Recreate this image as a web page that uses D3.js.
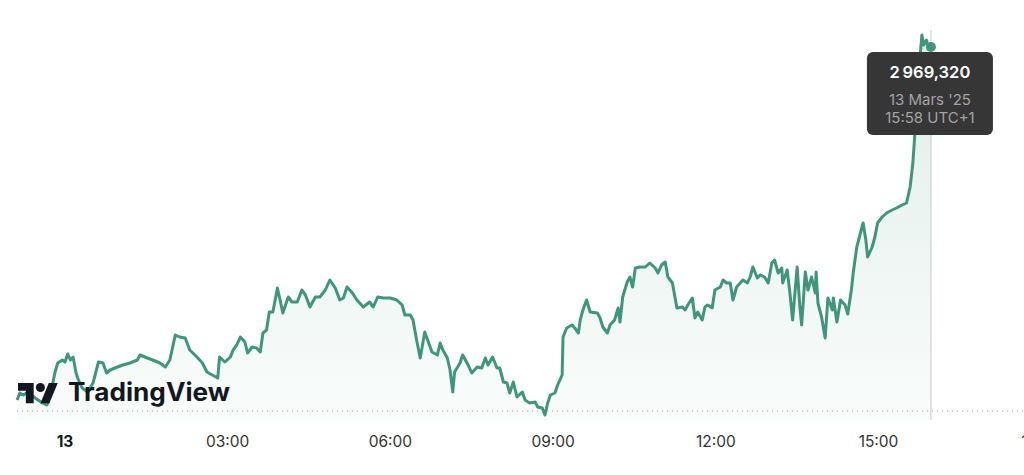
<!DOCTYPE html>
<meta charset="utf-8">
<html>
<head>
    <title>TradingView</title>
    <script src="https://d3js.org/d3.v7.min.js"></script>
    <style>
        body { margin: 0; background: #fff; }
        svg { display: block; font-family: Inter, "Open Sans", sans-serif; }
    </style>
</head>
<body>
<div id="chart"></div>
<script type="text/javascript">

    // 1-min-ish samples (times before 20:00 are 13 Mar, after are 12 Mar)
    var times = [
        "23:07","23:10","23:14","23:19","23:27","23:35","23:40","23:45","23:49","23:52","23:57",
        "00:00","00:03","00:06","00:09","00:12","00:14","00:19","00:25","00:31","00:37","00:42","00:46","00:50","00:58",
        "01:04","01:12","01:20","01:23","01:31","01:37","01:45","01:51","01:56",
        "02:02","02:07","02:13","02:18","02:26","02:32","02:37","02:43","02:49","02:51","02:57",
        "03:03","03:06","03:10","03:14","03:19","03:22","03:27","03:32","03:36","03:39","03:43","03:46","03:50","03:55","03:58",
        "04:01","04:07","04:11","04:17","04:22","04:26","04:31","04:37","04:42","04:48","04:53","04:59",
        "05:04","05:08","05:12","05:18","05:23","05:30","05:37","05:41","05:46","05:52",
        "06:00","06:07","06:13","06:16","06:22","06:25","06:29","06:33","06:38","06:42","06:46","06:52","06:55","06:58",
        "07:03","07:06","07:09","07:11","07:17","07:20","07:26","07:30","07:36","07:41","07:45","07:48","07:53","07:58",
        "08:01","08:05","08:09","08:12","08:16","08:20","08:26","08:29","08:34","08:40","08:43","08:48","08:51","08:54","08:57",
        "09:02","09:05","09:10","09:11","09:15","09:21","09:24","09:28","09:30","09:33","09:37","09:41","09:49","09:52","09:55",
        "10:00","10:03","10:08","10:12","10:14","10:17","10:22","10:25","10:28","10:31","10:36","10:42","10:47","10:53","10:56",
        "11:00","11:04","11:07","11:12","11:15","11:17","11:23","11:26","11:29","11:34","11:37","11:40","11:45","11:48","11:51","11:56","11:59",
        "12:05","12:08","12:12","12:16","12:19","12:23","12:27","12:30","12:35","12:38","12:41","12:46","12:49","12:54","12:58",
        "13:02","13:05","13:09","13:13","13:14","13:19","13:22","13:25","13:30","13:33","13:35","13:39","13:42","13:46","13:50","13:51","13:53","13:57",
        "14:01","14:04","14:09","14:10","14:14","14:18","14:23","14:26","14:30","14:32","14:36","14:40","14:43","14:46","14:48","14:53","14:56","14:59",
        "15:04","15:09","15:15","15:20","15:26","15:31","15:35","15:38","15:40","15:43","15:46","15:48","15:50","15:53","15:55","15:58"
    ];

    var prices = [
        2792.82,2796.32,2795.32,2796.82,2793.82,2791.32,2790.32,2797.82,2806.82,2811.32,2812.82,
        2811.82,2815.82,2812.82,2814.32,2806.82,2803.82,2798.82,2796.82,2801.32,2811.82,2811.32,2806.32,2807.82,2809.32,
        2810.32,2811.32,2812.82,2815.32,2813.82,2812.82,2811.32,2809.32,2812.82,
        2825.32,2824.32,2823.82,2817.82,2814.32,2811.32,2806.82,2805.32,2803.82,2814.32,2811.82,
        2814.32,2817.82,2820.32,2824.32,2821.82,2816.32,2819.32,2818.82,2816.82,2826.32,2827.82,2836.82,2836.82,2848.82,2842.82,
        2836.32,2844.32,2841.82,2841.82,2847.82,2845.32,2839.32,2844.32,2844.32,2847.82,2852.82,2848.82,
        2842.82,2843.82,2849.32,2846.32,2842.82,2839.32,2841.82,2839.32,2844.32,2843.82,
        2843.82,2842.82,2840.32,2835.32,2835.32,2832.82,2822.82,2813.82,2826.82,2821.82,2816.82,2815.32,2821.32,2817.82,
        2813.82,2807.82,2796.82,2806.82,2811.32,2815.32,2810.32,2806.32,2809.32,2808.82,2813.82,2810.32,2814.32,2808.82,
        2808.82,2801.82,2801.32,2796.32,2801.82,2794.32,2796.82,2792.82,2791.32,2791.82,2789.32,2788.82,2785.32,2791.32,2795.32,
        2796.32,2800.32,2805.32,2824.32,2828.82,2830.32,2828.82,2826.32,2832.82,2837.82,2842.82,2836.82,2836.32,2833.82,2829.32,
        2826.32,2830.32,2832.82,2838.82,2831.82,2844.32,2851.82,2854.32,2849.32,2858.82,2859.32,2859.32,2861.32,2858.82,2856.32,
        2860.32,2861.82,2854.32,2851.32,2843.82,2838.82,2839.32,2837.82,2840.32,2843.82,2833.82,2836.82,2832.82,2839.32,2840.32,2838.82,2847.82,
        2849.32,2852.82,2851.32,2851.32,2842.82,2849.32,2851.32,2852.82,2851.32,2854.32,2859.32,2853.82,2855.32,2854.32,2851.32,
        2861.32,2862.82,2856.32,2858.82,2851.32,2857.82,2846.32,2832.82,2859.32,2839.32,2830.32,2856.82,2847.82,2854.32,2846.32,2856.82,2841.32,2834.32,
        2823.82,2843.82,2837.82,2843.82,2831.82,2842.82,2840.32,2835.82,2847.82,2856.32,2869.32,2876.32,2881.32,2872.82,2864.32,2869.32,2874.32,2881.32,
        2884.32,2886.32,2887.82,2888.82,2890.32,2891.32,2899.32,2911.32,2924.32,2949.32,2964.32,2975.32,2970.32,2972.82,2969.32,2969.32
    ];

    var tickHours = [0, 3, 6, 9, 12, 15, 18];
    var prevClose = 2787.32;   // dotted reference line
    var tipDate = "13 Mars '25",
        tipTime = "15:58 UTC+1";

    var width = 1024, height = 475,
        plotBottom = 420,
        lineColor = "#40967c";

    var data = times.map(function (t, i) {
        var hm = t.split(":").map(Number);
        var day = hm[0] >= 20 ? 12 : 13;
        return { date: new Date(Date.UTC(2025, 2, day, hm[0], hm[1])), value: prices[i] };
    });
    var last = data[data.length - 1];

    var x = d3.scaleUtc()
        .domain([new Date(Date.UTC(2025, 2, 13, 0, 0)), new Date(Date.UTC(2025, 2, 13, 15, 0))])
        .range([65, 878.5]);
    var y = d3.scaleLinear()
        .domain([prevClose, last.value])
        .range([411, 47]);

    var svg = d3.select("#chart").append("svg")
        .attr("width", width)
        .attr("height", height);

    svg.append("rect").attr("width", width).attr("height", height).attr("fill", "#fff");

    var defs = svg.append("defs");
    var grad = defs.append("linearGradient")
        .attr("id", "areaFill")
        .attr("gradientUnits", "userSpaceOnUse")
        .attr("x1", 0).attr("x2", 0)
        .attr("y1", y(last.value)).attr("y2", plotBottom);
    grad.append("stop").attr("offset", "0%").attr("stop-color", lineColor).attr("stop-opacity", 0.16);
    grad.append("stop").attr("offset", "100%").attr("stop-color", lineColor).attr("stop-opacity", 0.03);

    // area under the line
    var area = d3.area()
        .x(function (d) { return x(d.date); })
        .y0(plotBottom)
        .y1(function (d) { return y(d.value); });

    svg.append("path")
        .datum(data)
        .attr("d", area)
        .attr("fill", "url(#areaFill)");

    // previous close, dotted
    svg.append("line")
        .attr("x1", x(data[0].date)).attr("x2", width)
        .attr("y1", y(prevClose)).attr("y2", y(prevClose))
        .attr("stroke", "#9a9a9a")
        .attr("stroke-width", 1)
        .attr("stroke-dasharray", "1,4");

    // crosshair
    svg.append("line")
        .attr("x1", x(last.date)).attr("x2", x(last.date))
        .attr("y1", 30).attr("y2", plotBottom)
        .attr("stroke", "#c9c9c9")
        .attr("stroke-width", 1);

    var line = d3.line()
        .x(function (d) { return x(d.date); })
        .y(function (d) { return y(d.value); });

    svg.append("path")
        .datum(data)
        .attr("d", line)
        .attr("fill", "none")
        .attr("stroke", lineColor)
        .attr("stroke-width", 3)
        .attr("stroke-linejoin", "round");

    svg.append("circle")
        .attr("cx", x(last.date))
        .attr("cy", y(last.value))
        .attr("r", 5)
        .attr("fill", lineColor);

    // x axis labels
    var fmtTime = d3.utcFormat("%H:%M");
    svg.selectAll(".tick")
        .data(tickHours)
        .enter().append("text")
        .attr("class", "tick")
        .attr("x", function (h) { return x(new Date(Date.UTC(2025, 2, 13, h, 0))); })
        .attr("y", 447)
        .attr("text-anchor", "middle")
        .style("font-size", "15.5px")
        .style("font-weight", function (h) { return h === 0 ? 700 : 400; })
        .attr("fill", function (h) { return h === 0 ? "#131722" : "#333"; })
        .text(function (h) { return h === 0 ? "13" : fmtTime(new Date(Date.UTC(2025, 2, 13, h, 0))); });

    // TradingView watermark
    var logo = svg.append("g").attr("transform", "translate(18,378.5) scale(1.12)");
    logo.append("path")
        .attr("d", "M14 22H7V11H0V4h14v18zM28 22h-8l7.5-18h8L28 22z")
        .attr("fill", "#131722");
    logo.append("circle").attr("cx", 20).attr("cy", 8).attr("r", 4).attr("fill", "#131722");
    svg.append("text")
        .attr("x", 68).attr("y", 401)
        .attr("textLength", 162)
        .attr("lengthAdjust", "spacingAndGlyphs")
        .style("font-size", "25px")
        .style("font-weight", 700)
        .attr("fill", "#131722")
        .text("TradingView");

    // tooltip
    var fr = d3.formatLocale({ decimal: ",", thousands: "\u2009", grouping: [3], currency: ["", ""] });
    var tx = x(last.date) - 1, ty = y(last.value) + 5;
    var tip = svg.append("g").attr("transform", "translate(" + tx + "," + ty + ")");
    tip.append("rect")
        .attr("x", -63).attr("y", 0)
        .attr("width", 126).attr("height", 83)
        .attr("rx", 6)
        .attr("fill", "#363636");
    tip.append("text")
        .attr("y", 26).attr("text-anchor", "middle")
        .style("font-size", "16.5px").style("font-weight", 600)
        .attr("fill", "#fff")
        .text(fr.format(",.3f")(last.value));
    tip.append("text")
        .attr("y", 53).attr("text-anchor", "middle")
        .style("font-size", "15px")
        .attr("fill", "#a3a3a3")
        .text(tipDate);
    tip.append("text")
        .attr("y", 71).attr("text-anchor", "middle")
        .style("font-size", "15px")
        .attr("fill", "#a3a3a3")
        .text(tipTime);

</script>
</body>
</html>
